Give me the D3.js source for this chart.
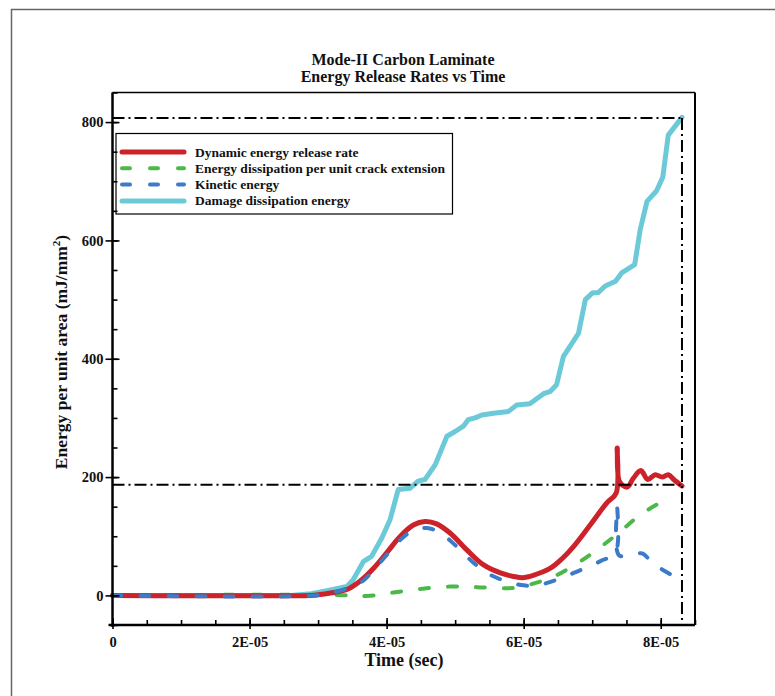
<!DOCTYPE html>
<html>
<head>
<meta charset="utf-8">
<script src="https://cdn.jsdelivr.net/npm/d3@7"></script>
<style>
  body { margin: 0; background: #fff; }
  text { font-family: "Liberation Serif", "Times New Roman", serif; font-weight: bold; fill: #111; }
</style>
</head>
<body>
<div id="chart"></div>
<script>
// time values are in units of 1E-05 sec
var releaseTime = [0, 2.9, 3.0, 3.18, 3.42, 3.61, 3.81, 4.00, 4.20, 4.39, 4.56, 4.73, 4.93, 5.17, 5.41, 5.66, 5.90, 5.98, 6.14, 6.39, 6.56, 6.73, 6.97, 7.21, 7.35, 7.365, 7.40, 7.51, 7.60, 7.71, 7.81, 7.92, 8.02, 8.11, 8.19, 8.31];
var releaseVal = [0, 0, 1, 4, 10, 24, 46, 72, 100, 119, 125, 121, 105, 77, 52, 38, 31, 30, 34, 46, 62, 83, 119, 156, 173, 249, 192, 183, 198, 211, 196, 204, 200, 204, 196, 185];

var dissipTime = [0, 3.22, 3.71, 4.10, 4.49, 4.93, 5.32, 5.71, 5.89, 6.14, 6.44, 6.82, 7.17, 7.41, 7.70, 8.09, 8.15];
var dissipVal = [0, 1, -1, 5, 11, 15, 14, 12, 13, 20, 32, 57, 86, 108, 136, 163, 166];

var kineticTime = [0, 2.95, 3.22, 3.61, 3.81, 4.20, 4.39, 4.59, 4.78, 5.02, 5.27, 5.51, 5.75, 6.00, 6.24, 6.73, 7.12, 7.34, 7.365, 7.39, 7.60, 7.73, 7.90, 7.99, 8.19, 8.31];
var kineticVal = [0, 0, 5, 21, 43, 94, 110, 114, 106, 83, 55, 35, 24, 17, 18, 38, 58, 72, 152, 68, 69, 71, 52, 46, 32, 22];

var damageTime = [0, 2.6, 2.9, 3.13, 3.42, 3.51, 3.66, 3.78, 3.93, 4.05, 4.17, 4.34, 4.46, 4.56, 4.71, 4.88, 5.00, 5.12, 5.19, 5.29, 5.39, 5.56, 5.78, 5.90, 6.09, 6.29, 6.39, 6.48, 6.58, 6.80, 6.90, 7.00, 7.09, 7.19, 7.34, 7.43, 7.62, 7.70, 7.80, 7.94, 8.03, 8.11, 8.31];
var damageVal = [0, 0, 3, 8, 15, 26, 57, 66, 97, 128, 179, 181, 193, 196, 221, 269, 277, 286, 297, 300, 305, 308, 311, 322, 324, 341, 345, 356, 404, 443, 500, 511, 512, 523, 531, 545, 559, 618, 666, 684, 707, 778, 808];

// dash-dot reference lines
var refLevels = [807, 187];
var refTime = 8.31;

var xTicks = [0, 2, 4, 6, 8];
var yTicks = [0, 200, 400, 600, 800];

var legendNames = ['Dynamic energy release rate', 'Energy dissipation per unit crack extension', 'Kinetic energy', 'Damage dissipation energy'];

var svgWidth = 775;
var svgHeight = 696;

var margin = { top: 92.5, right: 80, bottom: 71, left: 112.5 };
var width = svgWidth - margin.left - margin.right;
var height = svgHeight - margin.top - margin.bottom;

var svg = d3.select('#chart')
  .append('svg')
  .attr('width', svgWidth)
  .attr('height', svgHeight);

// outer frame
svg.append('rect')
  .attr('x', 11.5).attr('y', 9.5)
  .attr('width', 800).attr('height', 720)
  .attr('fill', 'none')
  .attr('stroke', '#666')
  .attr('stroke-width', 1.5);

var chartGroup = svg.append('g')
  .attr('transform', `translate(${margin.left}, ${margin.top})`);

var x = d3.scaleLinear().domain([0, 8.5]).range([0, width]);
var y = d3.scaleLinear().domain([-50, 850]).range([height, 0]);

var zip = function (ts, vs) { return ts.map(function (t, i) { return [t, vs[i]]; }); };

var series = [
  { data: zip(releaseTime, releaseVal), color: '#cc2229', width: 5, dash: null },
  { data: zip(dissipTime, dissipVal), color: '#4cb84a', width: 4, dash: '9,19' },
  { data: zip(kineticTime, kineticVal), color: '#3b7bc8', width: 4, dash: '9,19' },
  { data: zip(damageTime, damageVal), color: '#6ccad8', width: 5, dash: null }
];

var line = d3.line()
  .x(function (d) { return x(d[0]); })
  .y(function (d) { return y(d[1]); })
  .curve(d3.curveCatmullRom.alpha(0.5));

var lineLinear = d3.line()
  .x(function (d) { return x(d[0]); })
  .y(function (d) { return y(d[1]); });

// draw order: cyan, green, red, blue
[series[3], series[1], series[0], series[2]].forEach(function (s) {
  chartGroup.append('path')
    .datum(s.data)
    .attr('d', s === series[3] ? lineLinear : line)
    .attr('fill', 'none')
    .attr('stroke', s.color)
    .attr('stroke-width', s.width)
    .attr('stroke-linecap', 'round')
    .attr('stroke-linejoin', 'round')
    .attr('stroke-dasharray', s.dash);
});

// reference dash-dot lines
refLevels.forEach(function (v) {
  chartGroup.append('line')
    .attr('x1', 0).attr('x2', x(refTime))
    .attr('y1', y(v)).attr('y2', y(v))
    .attr('stroke', '#000').attr('stroke-width', 2)
    .attr('stroke-dasharray', '12,4,2,4');
});
chartGroup.append('line')
  .attr('x1', x(refTime)).attr('x2', x(refTime))
  .attr('y1', y(refLevels[0])).attr('y2', height)
  .attr('stroke', '#000').attr('stroke-width', 2)
  .attr('stroke-dasharray', '12,4,2,4');

// legend
var legend = chartGroup.append('g').attr('transform', 'translate(3.5, 41)');
legend.append('rect')
  .attr('width', 336.5).attr('height', 80.5)
  .attr('fill', '#fff').attr('stroke', '#000').attr('stroke-width', 1.2);
legendNames.forEach(function (name, i) {
  var s = series[i];
  var ly = 18.5 + i * 16.3;
  legend.append('line')
    .attr('x1', 6).attr('x2', 68)
    .attr('y1', ly).attr('y2', ly)
    .attr('stroke', s.color)
    .attr('stroke-width', s.dash ? 4 : 5)
    .attr('stroke-linecap', 'round')
    .attr('stroke-dasharray', s.dash ? '8,20' : null);
  legend.append('text')
    .attr('x', 79).attr('y', ly + 4.5)
    .style('font-size', '13.5px')
    .text(name);
});

// axes
var bottomAxis = d3.axisBottom(x).tickValues(xTicks)
  .tickFormat(function (d) { return d === 0 ? '0' : d + 'E-05'; })
  .tickSizeInner(-7).tickSizeOuter(0).tickPadding(12);
var bottomMinor = d3.axisBottom(x).tickValues(d3.range(0, 8.51, 0.5))
  .tickFormat('').tickSizeInner(-5).tickSizeOuter(0);
var leftAxis = d3.axisLeft(y).tickValues(yTicks)
  .tickSizeInner(7).tickSizeOuter(0).tickPadding(2);
var leftMinor = d3.axisLeft(y).tickValues(d3.range(-50, 851, 50))
  .tickFormat('').tickSizeInner(-5).tickSizeOuter(0);

var xAxisG = chartGroup.append('g')
  .attr('transform', `translate(0, ${height})`)
  .call(bottomMinor);
var xAxisMajor = chartGroup.append('g')
  .attr('transform', `translate(0, ${height})`)
  .call(bottomAxis);
xAxisMajor.selectAll('.tick line').attr('y2', -7).attr('y1', 4);
var yAxisG = chartGroup.append('g').call(leftMinor);
var yAxisMajor = chartGroup.append('g').call(leftAxis);
yAxisMajor.selectAll('.tick line').attr('x1', 7).attr('x2', -7);

[xAxisG, xAxisMajor, yAxisG, yAxisMajor].forEach(function (g) {
  g.selectAll('.domain').remove();
  g.selectAll('.tick line').attr('stroke', '#000').attr('stroke-width', 1.6);
  g.selectAll('.tick text')
    .style('font-family', '"Liberation Serif", serif')
    .style('font-weight', 'bold')
    .style('font-size', '14.5px')
    .attr('fill', '#111');
});

// frame lines
chartGroup.append('line').attr('x1', 0).attr('x2', 0).attr('y1', 0).attr('y2', height + 2)
  .attr('stroke', '#000').attr('stroke-width', 2.5);
chartGroup.append('line').attr('x1', -4).attr('x2', width).attr('y1', height).attr('y2', height)
  .attr('stroke', '#000').attr('stroke-width', 2.5);
chartGroup.append('line').attr('x1', width).attr('x2', width).attr('y1', 0).attr('y2', height)
  .attr('stroke', '#000').attr('stroke-width', 2);
chartGroup.append('line').attr('x1', 0).attr('x2', width).attr('y1', 0).attr('y2', 0)
  .attr('stroke', '#000').attr('stroke-width', 1.5);

// titles
svg.append('text')
  .attr('x', 403).attr('y', 65)
  .attr('text-anchor', 'middle')
  .style('font-size', '16px')
  .text('Mode-II Carbon Laminate');
svg.append('text')
  .attr('x', 403).attr('y', 82)
  .attr('text-anchor', 'middle')
  .style('font-size', '16px')
  .text('Energy Release Rates vs Time');

svg.append('text')
  .attr('x', 404).attr('y', 666)
  .attr('text-anchor', 'middle')
  .style('font-size', '18px')
  .text('Time (sec)');

var yLabel = svg.append('text')
  .attr('transform', 'translate(67, 352) rotate(-90)')
  .attr('text-anchor', 'middle')
  .style('font-size', '17.5px');
yLabel.append('tspan').text('Energy per unit area (mJ/mm');
yLabel.append('tspan').attr('dy', -7).style('font-size', '11px').text('2');
yLabel.append('tspan').attr('dy', 7).text(')');
</script>
</body>
</html>
